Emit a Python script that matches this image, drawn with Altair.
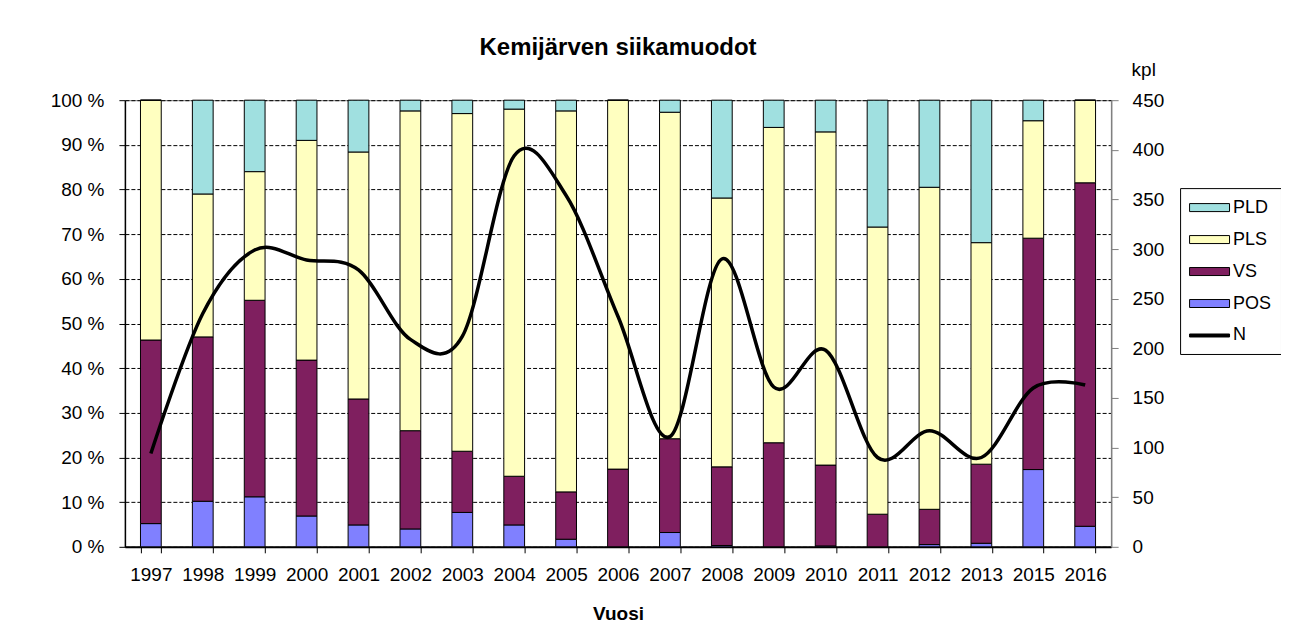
import altair as alt
import pandas as pd

years = ["1997", "1998", "1999", "2000", "2001", "2002", "2003", "2004", "2005", "2006",
         "2007", "2008", "2009", "2010", "2011", "2012", "2013", "2015", "2016"]
# percentage shares of each whitefish form
pos = [5.2, 10.2, 11.2, 6.9, 4.9, 4.0, 7.7, 4.9, 1.7, 0.0, 3.2, 0.3, 0.0, 0.2, 0.0, 0.5, 0.8, 17.3, 4.6]
vs = [41.1, 36.8, 44.0, 34.9, 28.2, 22.0, 13.7, 10.9, 10.6, 17.4, 21.0, 17.6, 23.3, 18.1, 7.3, 7.9, 17.7, 51.8, 76.9]
pls = [53.7, 32.0, 28.8, 49.2, 55.3, 71.6, 75.6, 82.2, 85.3, 82.6, 73.1, 60.2, 70.6, 74.6, 64.3, 72.1, 49.6, 26.3, 18.5]
pld = [0.0, 21.0, 16.0, 9.0, 11.6, 2.4, 3.0, 2.0, 2.4, 0.0, 2.7, 21.9, 6.1, 7.1, 28.4, 19.5, 31.9, 4.6, 0.0]
# number of fish (kpl)
n_values = [94, 235, 299, 289, 279, 209, 212, 394, 354, 232, 111, 290, 161, 198, 90, 117, 90, 160, 163]

categories = ["PLD", "PLS", "VS", "POS", "N"]
colors = ["#A0E0E0", "#FFFFC0", "#7F1F5F", "#8080FF", "#000000"]
stack_rank = {"POS": 0, "VS": 1, "PLS": 2, "PLD": 3}

rows = []
for i, yr in enumerate(years):
    for cat, arr in (("POS", pos), ("VS", vs), ("PLS", pls), ("PLD", pld)):
        rows.append({"Vuosi": yr, "muoto": cat, "osuus": arr[i], "jarj": stack_rank[cat]})
bars_df = pd.DataFrame(rows)
line_df = pd.DataFrame({"Vuosi": years, "N": n_values})

FONT = "Liberation Sans"
rect_path = "M-1,-0.4L3,-0.4L3,0.4L-1,0.4Z"
line_path = "M-1,-0.15L3,-0.15L3,0.15L-1,0.15Z"
shape_expr = "datum.value === 'N' ? '%s' : '%s'" % (line_path, rect_path)

x_enc = alt.X(
    "Vuosi:N", sort=years, title="Vuosi",
    scale=alt.Scale(paddingInner=0.6, paddingOuter=0.3),
    axis=alt.Axis(
        labelAngle=0, tickBand="extent", tickSize=6, tickColor="black",
        domainColor="black", domainWidth=2, labelPadding=13, labelFontSize=19,
        labelFont=FONT, labelColor="black", titleFont=FONT, titleFontSize=19,
        titleFontWeight="bold", titleColor="black", titlePadding=20, grid=False,
    ),
)

bars = alt.Chart(bars_df).mark_bar(stroke="black", strokeWidth=1).encode(
    x=x_enc,
    y=alt.Y(
        "osuus:Q", stack="normalize", scale=alt.Scale(domain=[0, 1]), title=None,
        axis=alt.Axis(
            values=[i / 10 for i in range(11)],
            labelExpr="format(datum.value * 100, '.0f') + ' %'",
            grid=True, gridColor="black", gridDash=[4, 2], gridWidth=1,
            domainColor="black", domainWidth=1.5, tickColor="black", tickSize=6,
            labelPadding=15, labelFontSize=19, labelFont=FONT, labelColor="black",
        ),
    ),
    color=alt.Color(
        "muoto:N",
        scale=alt.Scale(domain=categories, range=colors),
        legend=alt.Legend(
            title=None, orient="none", legendX=1056, legendY=88,
            strokeColor="black", fillColor="white", padding=9,
            symbolSize=400, symbolStrokeColor="black", symbolStrokeWidth=1,
            symbolType=alt.ExprRef(expr=shape_expr),
            labelOffset=23, labelFontSize=18, labelFont=FONT, labelColor="black",
            rowPadding=12,
        ),
    ),
    order=alt.Order("jarj:Q", sort="ascending"),
)

line = alt.Chart(line_df).mark_line(color="black", strokeWidth=3.5, interpolate="cardinal").encode(
    x=x_enc,
    y=alt.Y(
        "N:Q", scale=alt.Scale(domain=[0, 450]), title="kpl",
        axis=alt.Axis(
            orient="right", values=list(range(0, 451, 50)), grid=False,
            domainColor="#808080", domainWidth=1.5, tickColor="#808080", tickSize=7,
            labelPadding=14, labelFontSize=19, labelFont=FONT, labelColor="black",
            titleAngle=0, titleX=20, titleY=-25, titleAlign="left",
            titleBaseline="alphabetic", titleFont=FONT, titleFontSize=19,
            titleFontWeight="normal", titleColor="black",
        ),
    ),
)

chart = alt.layer(bars, line).resolve_scale(y="independent").properties(
    width=987, height=447,
    title=alt.TitleParams("Kemijärven siikamuodot", font=FONT, fontSize=24,
                          fontWeight="bold", color="black", anchor="middle", offset=0),
    autosize=alt.AutoSizeParams(type="none"),
    padding={"left": 117, "top": 92, "right": 170, "bottom": 90},
).configure_view(stroke="#808080", strokeWidth=1)

chart.save("out.html", embed_options={"renderer": "svg", "actions": False})
